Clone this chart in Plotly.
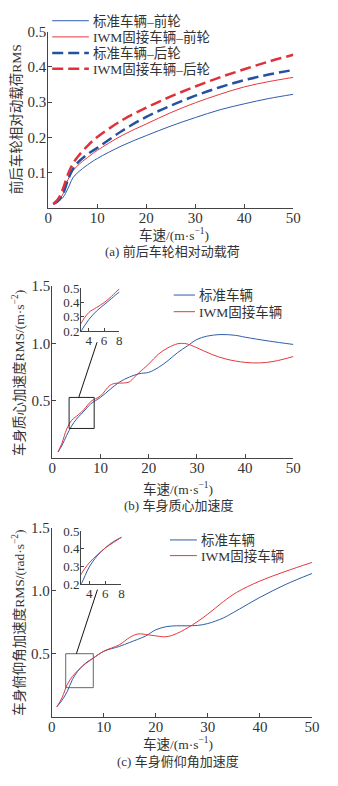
import plotly.graph_objects as go

W, H = 338, 786

# ---------------- data ----------------
# (a) relative dynamic wheel load RMS
speed_a = [1, 2, 3, 4, 5, 6, 8, 10, 15, 20, 25, 30, 35, 40, 45, 50]
std_front = [0.011, 0.018, 0.03, 0.055, 0.085, 0.1, 0.122, 0.14, 0.176, 0.205, 0.232, 0.256, 0.278, 0.295, 0.31, 0.322]
iwm_front = [0.011, 0.02, 0.04, 0.08, 0.105, 0.12, 0.143, 0.163, 0.205, 0.238, 0.27, 0.298, 0.322, 0.343, 0.358, 0.37]
std_rear = [0.011, 0.02, 0.04, 0.08, 0.11, 0.128, 0.152, 0.17, 0.218, 0.258, 0.29, 0.318, 0.342, 0.362, 0.378, 0.391]
iwm_rear = [0.011, 0.025, 0.055, 0.095, 0.125, 0.145, 0.176, 0.201, 0.248, 0.284, 0.316, 0.344, 0.37, 0.393, 0.415, 0.434]

# (b) body CG acceleration RMS
speed_b_std = [1.2, 2, 3, 4, 5, 6, 7, 8, 10, 12, 14, 16, 18, 20, 22, 24, 26, 28, 30, 32, 35, 38, 40, 45, 50]
accel_b_std = [0.055, 0.11, 0.2, 0.28, 0.34, 0.385, 0.43, 0.474, 0.53, 0.6, 0.665, 0.707, 0.736, 0.748, 0.79, 0.85, 0.92, 0.977, 1.034, 1.062, 1.077, 1.07, 1.054, 1.02, 0.991]
speed_b_iwm = [1.2, 2, 3, 4, 5, 6, 7, 8, 10, 12, 13, 14, 15, 16, 17, 18, 20, 22, 24, 26, 27, 28, 30, 33, 36, 40, 43, 46, 50]
accel_b_iwm = [0.055, 0.13, 0.255, 0.33, 0.365, 0.4, 0.445, 0.495, 0.543, 0.636, 0.652, 0.655, 0.656, 0.665, 0.705, 0.745, 0.82, 0.906, 0.962, 0.997, 1.0, 0.995, 0.962, 0.906, 0.864, 0.835, 0.83, 0.844, 0.886]

# (c) body pitch angular acceleration RMS
speed_c_std = [1, 2, 3, 4, 5, 6, 7, 8, 10, 13, 15, 18, 20, 22, 24, 26, 28, 30, 33, 35, 40, 45, 50]
pitch_c_std = [0.078, 0.13, 0.2, 0.296, 0.36, 0.405, 0.44, 0.465, 0.519, 0.558, 0.59, 0.64, 0.69, 0.715, 0.722, 0.722, 0.725, 0.74, 0.785, 0.83, 0.948, 1.052, 1.138]
speed_c_iwm = [1, 2, 3, 4, 5, 6, 7, 8, 10, 13, 15, 16.6, 18.5, 20, 22, 24, 27, 30, 33, 35.5, 40, 45, 50]
pitch_c_iwm = [0.078, 0.15, 0.256, 0.32, 0.365, 0.405, 0.435, 0.465, 0.52, 0.571, 0.63, 0.657, 0.65, 0.642, 0.635, 0.66, 0.728, 0.815, 0.915, 0.987, 1.078, 1.156, 1.226]

x_ticks = [0, 10, 20, 30, 40, 50]
ya_ticks = [0.1, 0.2, 0.3, 0.4, 0.5]
ybc_ticks = [0.5, 1.0, 1.5]
ybc_ticktext = ["0.5", "1.0", "1.5"]
inset_x_ticks = [4, 6, 8]
inset_y_ticks = [0.2, 0.3, 0.4, 0.5]

# zoom boxes (data coords) and connector ends
zoom_b = dict(x0=3.5, x1=8.7, y0=0.26, y1=0.53, lx0=5.5, ly0=0.53, lx1=9.3, ly1=1.01)
zoom_c = dict(x0=2.7, x1=8.0, y0=0.23, y1=0.50, lx0=4.75, ly0=0.50, lx1=8.8, ly1=1.01)

names_a = ["标准车辆–前轮", "IWM固接车辆–前轮", "标准车辆–后轮", "IWM固接车辆–后轮"]
names_bc = ["标准车辆", "IWM固接车辆"]

BLUE = "#2F5DA9"
RED = "#E5383B"
BLUE_D = "#2451A0"
RED_D = "#E0313A"
AX = "#444444"
TXT = "#333333"
FONT = "Liberation Serif, Noto Sans CJK SC, serif"
DASH = "11px,5px"

styles_a = [dict(color=BLUE, width=1), dict(color=RED, width=1),
            dict(color=BLUE_D, width=2.5, dash=DASH), dict(color=RED_D, width=2.5, dash=DASH)]
styles_bc = [dict(color=BLUE, width=1), dict(color=RED, width=1)]

# ---------------- figure ----------------
fig = go.Figure()

def px2x(p):
    return p / W

def px2y(p):
    return 1 - p / H

# panel (a)
for xs, ys, nm, st in zip([speed_a] * 4, [std_front, iwm_front, std_rear, iwm_rear], names_a, styles_a):
    fig.add_trace(go.Scatter(x=xs, y=ys, name=nm, mode="lines", line=dict(shape="spline", **st),
                             xaxis="x", yaxis="y", showlegend=False))

# panel (b) + inset
for xa, ya in (("x2", "y2"), ("x3", "y3")):
    for xs, ys, nm, st in zip([speed_b_std, speed_b_iwm], [accel_b_std, accel_b_iwm], names_bc, styles_bc):
        fig.add_trace(go.Scatter(x=xs, y=ys, name=nm, mode="lines", line=dict(shape="spline", **st),
                                 xaxis=xa, yaxis=ya, showlegend=False))

# panel (c) + inset
for xa, ya in (("x4", "y4"), ("x5", "y5")):
    for xs, ys, nm, st in zip([speed_c_std, speed_c_iwm], [pitch_c_std, pitch_c_iwm], names_bc, styles_bc):
        fig.add_trace(go.Scatter(x=xs, y=ys, name=nm, mode="lines", line=dict(shape="spline", **st),
                                 xaxis=xa, yaxis=ya, showlegend=False))

def ax_style(size=15, standoff=-2, **kw):
    d = dict(showline=True, linecolor=AX, linewidth=1, ticks="inside", ticklen=4, tickcolor=AX,
             showgrid=False, zeroline=False, mirror=False, ticklabelstandoff=standoff,
             tickfont=dict(family=FONT, size=size, color=TXT))
    d.update(kw)
    return d

layout = dict(
    width=W, height=H, autosize=False,
    margin=dict(l=0, r=0, t=0, b=0),
    paper_bgcolor="white", plot_bgcolor="rgba(0,0,0,0)",
    font=dict(family=FONT, color=TXT, size=13),
    showlegend=False,
    # (a)
    xaxis=ax_style(domain=[px2x(46), px2x(300)], range=[0, 50], tickvals=x_ticks, anchor="y", standoff=-4),
    yaxis=ax_style(domain=[px2y(204), px2y(24)], range=[0, 0.5], tickvals=ya_ticks, anchor="x"),
    # (b)
    xaxis2=ax_style(domain=[px2x(50), px2x(300)], range=[0, 50], tickvals=x_ticks, anchor="y2", standoff=-4),
    yaxis2=ax_style(domain=[px2y(459.7), px2y(283.7)], range=[0, 1.5], tickvals=ybc_ticks, ticktext=ybc_ticktext, anchor="x2"),
    xaxis3=ax_style(size=13, domain=[px2x(80), px2x(119.5)], range=[3, 8], tickvals=inset_x_ticks, anchor="y3", ticklen=3, standoff=-3),
    yaxis3=ax_style(size=13, domain=[px2y(329.7), px2y(286.3)], range=[0.2, 0.5], tickvals=inset_y_ticks, anchor="x3", ticklen=3),
    # (c)
    xaxis4=ax_style(domain=[px2x(49.4), px2x(319.3)], range=[0, 50], tickvals=x_ticks, anchor="y4", standoff=-4),
    yaxis4=ax_style(domain=[px2y(723.3), px2y(530.8)], range=[0, 1.5], tickvals=ybc_ticks, ticktext=ybc_ticktext, anchor="x4"),
    xaxis5=ax_style(size=13, domain=[px2x(80), px2x(121.7)], range=[3, 8], tickvals=inset_x_ticks, anchor="y5", ticklen=3, standoff=-3),
    yaxis5=ax_style(size=13, domain=[px2y(588), px2y(534)], range=[0.2, 0.5], tickvals=inset_y_ticks, anchor="x5", ticklen=3),
)
fig.update_layout(**layout)

# zoom boxes and connectors
for zb, xr, yr, col in ((zoom_b, "x2", "y2", "#222222"), (zoom_c, "x4", "y4", "#666666")):
    fig.add_shape(type="rect", xref=xr, yref=yr, x0=zb["x0"], x1=zb["x1"], y0=zb["y0"], y1=zb["y1"],
                  line=dict(color=col, width=1))
    fig.add_shape(type="line", xref=xr, yref=yr, x0=zb["lx0"], y0=zb["ly0"], x1=zb["lx1"], y1=zb["ly1"],
                  line=dict(color="#111111", width=1))

def ann(text, xp, yp, size=13.5, angle=0, xanchor="center"):
    fig.add_annotation(text=text, x=px2x(xp), y=px2y(yp), xref="paper", yref="paper",
                       showarrow=False, textangle=angle, xanchor=xanchor, yanchor="middle",
                       font=dict(family=FONT, size=size, color=TXT))

# legends (line sample + label)
def legend(names, styles, x0, x1, ys):
    for nm, st, yy in zip(names, styles, ys):
        fig.add_shape(type="line", xref="paper", yref="paper", x0=px2x(x0), x1=px2x(x1),
                      y0=px2y(yy), y1=px2y(yy), line=st)
        ann(nm, x1 + 2, yy, size=13.5, xanchor="left")

legend(names_a, styles_a, 50, 88, [13, 29.5, 46, 62])
legend(names_bc, styles_bc, 176, 198, [293, 310])
legend(names_bc, styles_bc, 172, 200, [543, 559])

xlabel = "车速/(m·s<sup>−1</sup>)"
ann(xlabel, 176, 231)
ann("(a) 前后车轮相对动载荷", 175, 249, size=13)
ann("前后车轮相对动载荷RMS", 12, 114, angle=-90)

ann(xlabel, 180, 490)
ann("(b) 车身质心加速度", 181, 508, size=13)
ann("车身质心加速度RMS/(m·s<sup>−2</sup>)", 15, 372, angle=-90)

ann(xlabel, 180, 751)
ann("(c) 车身俯仰角加速度", 180, 769, size=13)
ann("车身俯仰角加速度RMS/(rad·s<sup>−2</sup>)", 15, 627, angle=-90)

fig.write_html("out.html")
